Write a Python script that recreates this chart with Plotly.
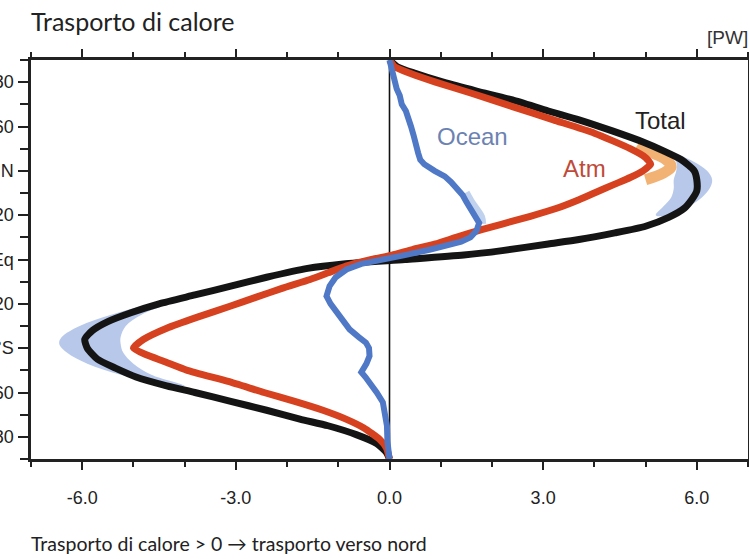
import plotly.graph_objects as go

# ---- data (latitude in degrees, transport in PW) ----
total_lat = [90, 87, 84, 80, 76, 72, 67, 63, 58, 53, 49, 45, 40, 36, 31, 27, 23, 19, 15, 12, 9, 7, 4, 2, 0, -2, -4, -8, -12, -16, -20, -24, -28, -32, -36, -40, -45, -49, -53, -57, -60, -64, -68, -72, -75, -79, -83, -87, -90]
total_val = [0.0, 0.15, 0.5, 1.05, 1.7, 2.4, 3.1, 3.7, 4.35, 4.95, 5.35, 5.7, 5.95, 6.0, 6.0, 5.9, 5.75, 5.45, 5.0, 4.4, 3.7, 3.1, 2.2, 1.45, 0.3, -0.9, -1.6, -2.4, -3.1, -3.8, -4.5, -5.05, -5.5, -5.8, -5.95, -5.9, -5.7, -5.35, -4.95, -4.35, -3.8, -3.1, -2.4, -1.75, -1.2, -0.65, -0.25, -0.06, 0.0]

atm_lat = [90, 87, 84, 80, 75, 69, 63, 57, 50, 46, 43, 40, 37, 34, 30, 27, 23, 19.5, 16, 13.5, 10, 7, 4.5, 2, 0, -3, -6, -9, -13, -17, -21, -26, -31, -36, -40, -43, -46, -50, -55, -60, -64, -68, -72, -76, -81, -85, -90]
atm_val = [0.0, 0.1, 0.4, 0.9, 1.6, 2.4, 3.2, 4.0, 4.7, 5.0, 5.1, 4.95, 4.7, 4.4, 4.0, 3.7, 3.25, 2.75, 2.2, 1.8, 1.3, 0.9, 0.45, 0.05, -0.35, -0.85, -1.2, -1.55, -2.1, -2.6, -3.1, -3.75, -4.35, -4.8, -5.0, -4.75, -4.4, -3.95, -3.15, -2.45, -1.85, -1.3, -0.85, -0.5, -0.2, -0.06, 0.0]

ocean_lat = [90, 85, 81, 77, 74, 70, 67, 63, 60, 56, 52.6, 48, 45, 43, 40, 37.5, 35, 32, 29, 26, 23, 19.5, 16.5, 13, 10, 8, 6, 4.5, 2, 0, -2, -4.5, -8, -12, -16.5, -20, -24, -28, -31.5, -35, -37.5, -40, -43.5, -47, -50.8, -53, -55.3, -60, -64.4, -70, -75, -82, -88, -90]
ocean_val = [0.0, 0.05, 0.1, 0.14, 0.2, 0.24, 0.32, 0.36, 0.42, 0.47, 0.52, 0.56, 0.6, 0.68, 0.88, 1.08, 1.2, 1.32, 1.43, 1.5, 1.58, 1.68, 1.75, 1.7, 1.58, 1.4, 1.1, 0.8, 0.3, -0.2, -0.55, -0.84, -1.05, -1.17, -1.23, -1.15, -1.03, -0.9, -0.78, -0.6, -0.46, -0.4, -0.39, -0.45, -0.55, -0.47, -0.39, -0.25, -0.13, -0.08, -0.05, -0.04, -0.03, 0.0]

# light-blue spread of the total (other estimates), outer and inner edges
band_s_lat = [-16, -20, -25, -30, -35, -38, -42, -47, -52, -57]
band_s_out = [-3.9, -4.65, -5.45, -6.05, -6.4, -6.45, -6.3, -5.9, -5.25, -4.3]
band_s_in = [-3.8, -4.3, -4.85, -5.15, -5.25, -5.25, -5.2, -5.0, -4.65, -4.0]
band_n_lat = [48, 44, 40, 36, 32, 28, 24, 20]
band_n_out = [5.55, 5.95, 6.2, 6.3, 6.25, 6.1, 5.85, 5.5]
band_n_in = [5.45, 5.6, 5.6, 5.55, 5.55, 5.5, 5.35, 5.2]

# orange spread of atmospheric transport
atm_band_lat = [52, 48, 45, 42, 39, 36]
atm_band_val = [4.85, 5.15, 5.4, 5.5, 5.35, 5.0]

# light-blue spread of ocean transport
ocean_band_lat = [30, 26, 22, 19, 16]
ocean_band_val = [1.48, 1.58, 1.7, 1.78, 1.8]

x_ticks = [-6, -3, 0, 3, 6]
x_tick_text = ["-6.0", "-3.0", "0.0", "3.0", "6.0"]
y_ticks = [80, 60, 40, 20, 0, -20, -40, -60, -80]
y_tick_text = ["80", "60", "40°N", "20", "Eq", "20", "40°S", "60", "80"]

BLUE_LIGHT = "rgba(170,190,232,0.85)"

fig = go.Figure()

# spread bands
fig.add_trace(go.Scatter(x=band_s_out + band_s_in[::-1], y=band_s_lat + band_s_lat[::-1],
                         fill="toself", fillcolor=BLUE_LIGHT, line=dict(width=0),
                         mode="lines", line_shape="spline", hoverinfo="skip", showlegend=False))
fig.add_trace(go.Scatter(x=band_n_out + band_n_in[::-1], y=band_n_lat + band_n_lat[::-1],
                         fill="toself", fillcolor=BLUE_LIGHT, line=dict(width=0),
                         mode="lines", line_shape="spline", hoverinfo="skip", showlegend=False))
fig.add_trace(go.Scatter(x=atm_band_val, y=atm_band_lat, mode="lines", line_shape="spline",
                         line=dict(color="rgba(240,170,100,0.9)", width=11),
                         hoverinfo="skip", showlegend=False))
fig.add_trace(go.Scatter(x=ocean_band_val, y=ocean_band_lat, mode="lines", line_shape="spline",
                         line=dict(color="rgba(185,205,235,0.9)", width=9),
                         hoverinfo="skip", showlegend=False))

# zero line
fig.add_trace(go.Scatter(x=[0, 0], y=[-90, 90], mode="lines",
                         line=dict(color="#111111", width=1.6), hoverinfo="skip", showlegend=False))

fig.add_trace(go.Scatter(x=total_val, y=total_lat, mode="lines", name="Total",
                         line=dict(color="#141414", width=7, shape="spline", smoothing=0.6)))
fig.add_trace(go.Scatter(x=atm_val, y=atm_lat, mode="lines", name="Atm",
                         line=dict(color="#d6421f", width=7, shape="spline", smoothing=0.5)))
fig.add_trace(go.Scatter(x=ocean_val, y=ocean_lat, mode="lines", name="Ocean",
                         line=dict(color="#4f78c6", width=6)))

axis_common = dict(showgrid=False, zeroline=False, showline=True, linecolor="#222222",
                   linewidth=2.5, mirror="ticks", ticks="outside", tickcolor="#222222",
                   tickwidth=2)

fig.update_xaxes(range=[-7, 7], tickvals=x_ticks, ticktext=x_tick_text, ticklen=8,
                 minor=dict(dtick=1, tick0=0, ticklen=5, tickwidth=1.6, tickcolor="#222222", ticks="outside"),
                 tickfont=dict(family="Liberation Sans, Arial", size=18, color="#222222"),
                 ticklabelstandoff=13, automargin=False, **axis_common)
fig.update_yaxes(range=[-90, 90], tickvals=y_ticks, ticktext=y_tick_text, ticklen=10,
                 minor=dict(dtick=10, tick0=0, ticklen=8, tickwidth=1.6, tickcolor="#222222", ticks="outside"),
                 tickfont=dict(family="Liberation Sans, Arial", size=18, color="#222222"),
                 ticklabelstandoff=1, automargin=False, **axis_common)

W, H = 749, 559
L, R, T, B = 31, 1, 60, 100
PW_, PH_ = W - L - R, H - T - B

annotations = [
    dict(text="Trasporto di calore", x=29, y=21, xanchor="left",
         font=dict(family="Lato, Open Sans", size=25, color="#222222")),
    dict(text="[PW]", x=705, y=38, xanchor="left",
         font=dict(family="Liberation Sans, Arial", size=19, color="#333333")),
    dict(text="Trasporto di calore > 0 → trasporto verso nord", x=29, y=543, xanchor="left",
         font=dict(family="Lato, Open Sans", size=19.5, color="#222222")),
]
labels = [
    dict(text="Total", xv=5.3, yv=62.5, color="#222222"),
    dict(text="Ocean", xv=1.62, yv=55.5, color="#6b82b2"),
    dict(text="Atm", xv=3.8, yv=41, color="#c04a3a"),
]

for a in annotations:
    fig.add_annotation(text=a["text"], x=(a["x"] - L) / PW_, y=(H - B - a["y"]) / PH_,
                       xref="paper", yref="paper", xanchor=a["xanchor"], yanchor="middle",
                       showarrow=False, font=a["font"])
for l in labels:
    fig.add_annotation(text=l["text"], x=l["xv"], y=l["yv"], xref="x", yref="y", showarrow=False,
                       font=dict(family="Liberation Sans, Arial", size=24, color=l["color"]))

fig.update_layout(width=W, height=H, margin=dict(l=L, r=R, t=T, b=B),
                  paper_bgcolor="white", plot_bgcolor="white", showlegend=False)

fig.write_html("out.html")
